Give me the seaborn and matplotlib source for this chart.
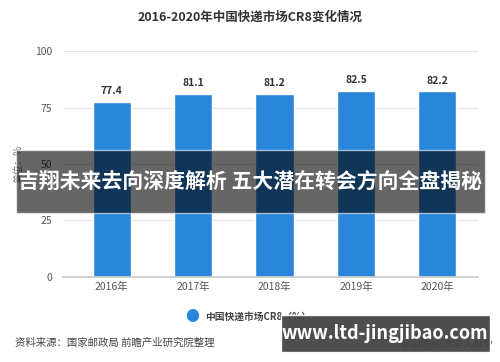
import pandas as pd
import seaborn as sns
import matplotlib.pyplot as plt
from matplotlib.patches import Rectangle

years = ["2016年", "2017年", "2018年", "2019年", "2020年"]
cr8 = [77.4, 81.1, 81.2, 82.5, 82.2]
yticks = [0, 25, 50, 75, 100]

sns.set_theme(style="white")
plt.rcParams['font.family'] = ['Noto Sans CJK SC', 'DejaVu Sans']

data = pd.DataFrame({"year": years, "cr8": cr8})

fig = plt.figure(figsize=(5, 3.62), dpi=100)
ax = fig.add_axes([0.126, 0.235, 0.83, 0.624])
sns.barplot(data=data, x="year", y="cr8", color="#2a86db", width=0.47,
            saturation=1, ax=ax, zorder=2)
ax.set_ylim(0, 100)
ax.set_xlim(-0.6, 4.5)
ax.set_yticks(yticks)
ax.grid(axis="y", color="#e4e4e4", linewidth=0.8, zorder=0)
for s in ["top", "right", "left"]:
    ax.spines[s].set_visible(False)
ax.spines["bottom"].set_color("#cccccc")
ax.tick_params(axis="both", length=0, labelsize=7.5, labelcolor="#555555")
ax.tick_params(axis="y", pad=8)
ax.set_xlabel("")
ax.set_ylabel("单位：%", fontsize=7, color="#666666", labelpad=8)

for i, v in enumerate(cr8):
    ax.text(i, v + 2.5, f"{v}", ha="center", va="bottom", fontsize=7.5,
            fontweight="bold", color="#333333")

fig.text(0.5, 0.953, "2016-2020年中国快递市场CR8变化情况", ha="center", va="center",
         fontsize=9, fontweight="bold", color="#333333")

# legend
fig.text(0.384, 0.124, "●", ha="center", va="center", fontsize=10, color="#2a86db")
fig.text(0.41, 0.124, "中国快递市场CR8（%）", ha="left", va="center", fontsize=7,
         fontweight="bold", color="#444444")

fig.text(0.03, 0.052, "资料来源：国家邮政局 前瞻产业研究院整理", ha="left", va="center",
         fontsize=7.5, color="#444444")
fig.text(0.985, 0.052, "@前瞻经济学人APP", ha="right", va="center",
         fontsize=7.5, color="#444444")

# overlay banners
fig.patches.append(Rectangle((0.032, 0.412), 0.938, 0.174, transform=fig.transFigure,
                             facecolor="black", alpha=0.6, zorder=5))
fig.text(0.5, 0.499, "吉翔未来去向深度解析 五大潜在转会方向全盘揭秘", ha="center",
         va="center", fontsize=15, fontweight="bold", color="white", zorder=6)
fig.patches.append(Rectangle((0.562, 0.028), 0.418, 0.102, transform=fig.transFigure,
                             facecolor="#444444", alpha=0.95, zorder=5))
fig.text(0.77, 0.079, "www.ltd-jingjibao.com", ha="center", va="center",
         fontsize=13, fontweight="bold", color="white", zorder=6)

fig.savefig("out.png", dpi=100)
